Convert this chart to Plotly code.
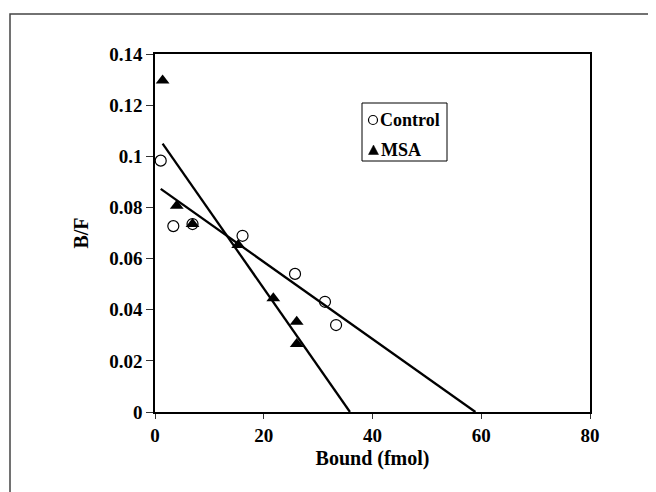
import numpy as np
import plotly.graph_objects as go

# Data (Scatchard plot)
control_x = [1.05, 3.37, 6.9, 16.1, 25.75, 31.26, 33.3]
control_y = [0.0983, 0.0727, 0.0735, 0.0689, 0.054, 0.0431, 0.034]
msa_x = [1.4, 4.0, 6.9, 15.3, 21.76, 26.06, 26.06]
msa_y = [0.1296, 0.0807, 0.0735, 0.0653, 0.0445, 0.0353, 0.0266]

series_names = ["Control", "MSA"]
x_ticks = [0, 20, 40, 60, 80]
y_ticks = [0, 0.02, 0.04, 0.06, 0.08, 0.1, 0.12, 0.14]

FONT = "Liberation Serif"

# plot area in page pixels (page has an 8px body margin)
L, T, PW, PH = 147, 46, 435, 358
W, H = 648, 484


def px(xw):
    """page x pixel -> paper x"""
    return (xw - 8 - L) / PW


def py(yw):
    """page y pixel -> paper y"""
    return (T + PH - (yw - 8)) / PH


def fit_line(xs, ys):
    slope, intercept = np.polyfit(xs, ys, 1)
    x0 = min(xs)
    x1 = -intercept / slope
    return [x0, x1], [slope * x0 + intercept, 0.0]


fig = go.Figure()

cx, cy = fit_line(control_x, control_y)
mx, my = fit_line(msa_x, msa_y)

fig.add_trace(go.Scatter(x=cx, y=cy, mode="lines", line=dict(color="black", width=2.3),
                         showlegend=False, hoverinfo="skip"))
fig.add_trace(go.Scatter(x=mx, y=my, mode="lines", line=dict(color="black", width=2.3),
                         showlegend=False, hoverinfo="skip"))

fig.add_trace(go.Scatter(
    x=control_x, y=control_y, mode="markers", name=series_names[0], showlegend=False,
    marker=dict(symbol="circle-open", size=11, color="black", line=dict(width=1.2)),
))
fig.add_trace(go.Scatter(
    x=msa_x, y=msa_y, mode="markers", name=series_names[1], showlegend=False,
    marker=dict(symbol="triangle-up", size=12, color="black"),
))

axis_common = dict(
    showgrid=False, zeroline=False, showline=True, linecolor="black", linewidth=1.5,
    mirror=True, ticks="outside", tickcolor="#333", tickwidth=1,
    tickfont=dict(family=FONT, size=19, color="black", weight="bold"),
)

fig.update_xaxes(
    range=[0, 80], tickvals=x_ticks, ticklen=5,
    title=dict(text="Bound (fmol)", font=dict(family=FONT, size=20, color="black", weight="bold"),
               standoff=6),
    **axis_common,
)
fig.update_yaxes(
    range=[0, 0.14], tickvals=y_ticks, ticklen=7,
    title=dict(text="B/F", font=dict(family=FONT, size=20, color="black", weight="bold"),
               standoff=15),
    **axis_common,
)

shapes = []
# outer frame (top and left edges visible, extends past the page)
shapes.append(dict(type="rect", xref="paper", yref="paper",
                   x0=px(10), x1=1.6, y0=-1.0, y1=py(14),
                   line=dict(color="#444", width=1.5), layer="below"))
# legend box
shapes.append(dict(type="rect", xref="paper", yref="paper",
                   x0=px(362), x1=px(447), y0=py(161), y1=py(103),
                   line=dict(color="black", width=1), fillcolor="white", layer="above"))
# legend symbols
r = 4.5
shapes.append(dict(type="circle", xref="paper", yref="paper",
                   x0=px(373 - r), x1=px(373 + r), y0=py(120 + r), y1=py(120 - r),
                   line=dict(color="black", width=1.2), fillcolor="white"))
shapes.append(dict(type="path", xref="paper", yref="paper",
                   path=(f"M {px(368.5)} {py(154.5)} L {px(378.5)} {py(154.5)} "
                         f"L {px(373.5)} {py(145)} Z"),
                   line=dict(color="black", width=0.5), fillcolor="black"))

annotations = [
    dict(text=series_names[0], xref="paper", yref="paper", x=px(378), y=py(120),
         xanchor="left", yanchor="middle", showarrow=False,
         font=dict(family=FONT, size=18, color="black", weight="bold")),
    dict(text=series_names[1], xref="paper", yref="paper", x=px(379), y=py(150),
         xanchor="left", yanchor="middle", showarrow=False,
         font=dict(family=FONT, size=18, color="black", weight="bold")),
]

fig.update_layout(
    width=W, height=H,
    margin=dict(l=L, r=W - L - PW, t=T, b=H - T - PH),
    paper_bgcolor="white", plot_bgcolor="white",
    font=dict(family=FONT, color="black"),
    showlegend=False,
    shapes=shapes,
    annotations=annotations,
)

fig.write_html("out.html")
